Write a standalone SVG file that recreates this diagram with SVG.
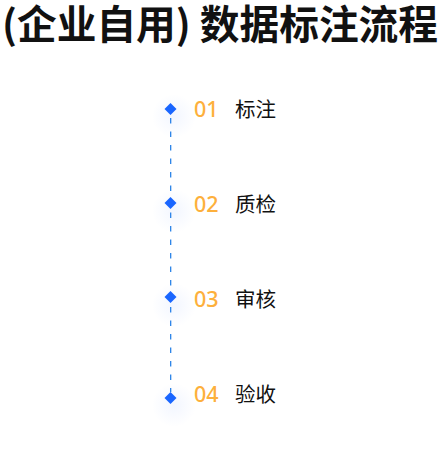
<svg xmlns="http://www.w3.org/2000/svg" width="442" height="455" viewBox="0 0 442 455">
  <defs>
    <radialGradient id="glow" cx="0.5" cy="0.5" r="0.5">
      <stop offset="0" stop-color="#2f6bff" stop-opacity="0.06"/>
      <stop offset="1" stop-color="#2f6bff" stop-opacity="0"/>
    </radialGradient>
    <style>
      .title { font-family: "Noto Sans CJK SC", "Noto Sans", sans-serif; font-weight: 700; font-size: 39.5px; fill: #111111; }
      .num { font-family: "Noto Sans", "Noto Sans CJK SC", sans-serif; font-size: 21.5px; font-weight: 500; fill: #FDB03C; }
      .label { font-family: "Noto Sans CJK SC", sans-serif; font-size: 20.5px; fill: #111111; }
      .dot { fill: #1A66FF; }
      .conn { stroke: #1A7AE6; stroke-width: 1.2; stroke-dasharray: 5.5 8; fill: none; }
    </style>
  </defs>
  <rect width="442" height="455" fill="#ffffff"/>
  <text class="title" x="2" y="38.5" textLength="436" lengthAdjust="spacingAndGlyphs">(企业自用) 数据标注流程</text>

  <g id="connectors">
    <line class="conn" x1="170.7" y1="118" x2="170.7" y2="392"/>
  </g>

  <g id="step1">
    <circle cx="174" cy="116" r="22" fill="url(#glow)"/>
    <polygon class="dot" points="170.5,103 176.5,109 170.5,115 164.5,109"/>
    <text class="num" x="194" y="116.5">01</text>
    <text class="label" x="235" y="117">标注</text>
  </g>
  <g id="step2">
    <circle cx="174" cy="211" r="22" fill="url(#glow)"/>
    <polygon class="dot" points="170.5,197 176.5,203 170.5,209 164.5,203"/>
    <text class="num" x="194" y="211.5">02</text>
    <text class="label" x="235" y="211.5">质检</text>
  </g>
  <g id="step3">
    <circle cx="174" cy="305" r="22" fill="url(#glow)"/>
    <polygon class="dot" points="170.5,291 176.5,297 170.5,303 164.5,297"/>
    <text class="num" x="194" y="306.5">03</text>
    <text class="label" x="235" y="306.5">审核</text>
  </g>
  <g id="step4">
    <circle cx="174" cy="405" r="22" fill="url(#glow)"/>
    <polygon class="dot" points="170.5,392 176.5,398 170.5,404 164.5,398"/>
    <text class="num" x="194" y="402">04</text>
    <text class="label" x="235" y="402">验收</text>
  </g>
</svg>
